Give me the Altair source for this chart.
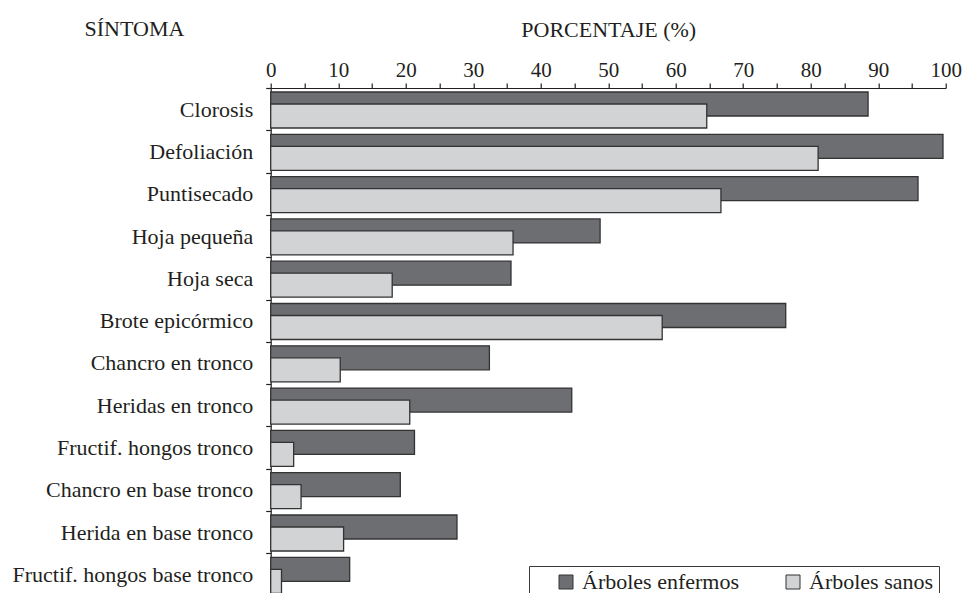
import altair as alt
import pandas as pd

categories = [
    "Clorosis", "Defoliación", "Puntisecado", "Hoja pequeña", "Hoja seca",
    "Brote epicórmico", "Chancro en tronco", "Heridas en tronco",
    "Fructif. hongos tronco", "Chancro en base tronco", "Herida en base tronco",
    "Fructif. hongos base tronco",
]
enfermos = [88.5, 99.6, 95.9, 48.8, 35.6, 76.3, 32.4, 44.6, 21.3, 19.2, 27.6, 11.7]
sanos = [64.6, 81.1, 66.7, 35.9, 18.0, 58.0, 10.3, 20.6, 3.4, 4.5, 10.8, 1.6]
series = ["Árboles enfermos", "Árboles sanos"]
colors = ["#6d6e71", "#d1d3d4"]
x_ticks = list(range(0, 101, 5))

df = pd.DataFrame({
    "sintoma": categories * 2,
    "serie": [series[0]] * len(categories) + [series[1]] * len(categories),
    "pct": enfermos + sanos,
})

FONT = "Liberation Serif"
INK = "#231f20"
EDGE = "#333333"

x = alt.X(
    "pct:Q",
    scale=alt.Scale(domain=[0, 100], nice=False),
    axis=alt.Axis(
        orient="top", values=x_ticks,
        labelExpr="datum.value % 10 == 0 ? datum.label : ''",
        title="PORCENTAJE (%)", titleFont=FONT, titleFontSize=22,
        titleFontWeight="normal", titleColor=INK, titleY=-51.5,
        titleBaseline="alphabetic",
        labelFont=FONT, labelFontSize=21, labelColor=INK, labelPadding=3,
        labelFlush=False, labelOverlap=False, grid=False,
        tickSize=5, tickColor=INK, tickWidth=1.2,
        domainColor=INK, domainWidth=1.2,
    ),
)

y = alt.Y(
    "sintoma:N", sort=categories,
    scale=alt.Scale(range=[0, 507.6], paddingInner=0, paddingOuter=0),
    axis=alt.Axis(
        title="SÍNTOMA", titleAngle=0, titleX=-186.7, titleY=-52.5,
        titleAlign="left", titleBaseline="alphabetic",
        titleFont=FONT, titleFontSize=22, titleFontWeight="normal", titleColor=INK,
        labelFont=FONT, labelFontSize=22, labelColor=INK, labelPadding=13,
        labelLimit=400, tickSize=5, tickBand="extent", tickColor=INK, tickWidth=1.2,
        domainColor=INK, domainWidth=1.2, grid=False,
    ),
)

color = alt.Color(
    "serie:N",
    scale=alt.Scale(domain=series, range=colors),
    legend=alt.Legend(
        title=None, orient="none", legendX=258.3, legendY=478,
        direction="horizontal", columns=2, columnPadding=21, padding=5,
        symbolType="square", symbolSize=196, symbolStrokeColor=EDGE,
        symbolStrokeWidth=1, symbolOffset=21, labelOffset=5,
        labelFont=FONT, labelFontSize=22, labelColor=INK,
        strokeColor="#3a3a3a", fillColor="white",
    ),
)

base = alt.Chart(df)
dark = base.transform_filter(alt.datum.serie == series[0]).mark_bar(
    height=24, yOffset=-5.15, stroke=EDGE, strokeWidth=1.3
).encode(x=x, y=y, color=color)
light = base.transform_filter(alt.datum.serie == series[1]).mark_bar(
    height=24, yOffset=6.85, stroke=EDGE, strokeWidth=1.3
).encode(x=x, y=y, color=color)

chart = alt.layer(dark, light).properties(
    width=675, height=505,
    autosize=alt.AutoSizeParams(type="none"),
    padding={"left": 270.7, "top": 88, "right": 20.3, "bottom": 0},
    background="white",
).configure_view(stroke=None)

chart.save("out.html", embed_options={"renderer": "svg", "actions": False})
